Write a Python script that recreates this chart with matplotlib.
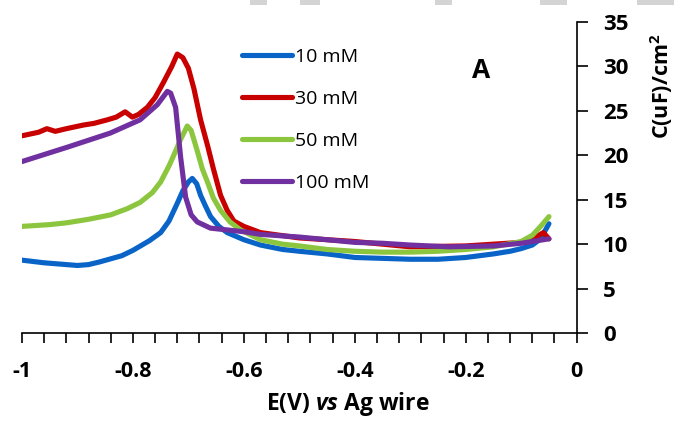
import matplotlib.pyplot as plt
from matplotlib.ticker import FixedLocator, MultipleLocator
from matplotlib.patches import Rectangle

# data
x_10 = [-1, -0.96, -0.92, -0.9, -0.88, -0.86, -0.82, -0.8, -0.77, -0.75, -0.735, -0.72, -0.71,
        -0.70, -0.693, -0.685, -0.678, -0.67, -0.66, -0.645, -0.63, -0.6, -0.57, -0.53, -0.5,
        -0.45, -0.4, -0.35, -0.3, -0.25, -0.2, -0.15, -0.12, -0.1, -0.08, -0.065, -0.05]
c_10 = [8.2, 7.9, 7.7, 7.6, 7.7, 8.0, 8.7, 9.3, 10.4, 11.3, 12.6, 14.6, 16.0,
        17.0, 17.4, 16.8, 15.5, 14.4, 13.1, 12.0, 11.3, 10.5, 9.9, 9.4, 9.2,
        8.9, 8.5, 8.4, 8.3, 8.3, 8.5, 8.9, 9.2, 9.5, 9.9, 10.6, 12.3]

x_30 = [-1, -0.97, -0.955, -0.94, -0.92, -0.89, -0.87, -0.846, -0.83, -0.814, -0.801, -0.79,
        -0.774, -0.76, -0.745, -0.73, -0.72, -0.71, -0.70, -0.69, -0.678, -0.665, -0.655,
        -0.642, -0.63, -0.618, -0.6, -0.57, -0.5, -0.4, -0.3, -0.2, -0.15, -0.1, -0.08,
        -0.06, -0.05]
c_30 = [22.2, 22.6, 23.0, 22.7, 23.0, 23.4, 23.6, 24.0, 24.3, 24.9, 24.3, 24.6,
        25.4, 26.5, 28.2, 30.0, 31.4, 31.0, 29.8, 27.5, 24.0, 21.0, 18.5,
        15.5, 13.8, 12.6, 12.0, 11.3, 10.7, 10.3, 9.7, 9.8, 10.0, 10.2, 10.6,
        11.3, 10.6]

x_50 = [-1, -0.95, -0.92, -0.88, -0.84, -0.81, -0.787, -0.765, -0.75, -0.735, -0.725, -0.714,
        -0.702, -0.695, -0.684, -0.675, -0.665, -0.655, -0.642, -0.625, -0.606, -0.57, -0.53,
        -0.5, -0.45, -0.4, -0.35, -0.3, -0.25, -0.2, -0.15, -0.1, -0.08, -0.065, -0.05]
c_50 = [12.0, 12.2, 12.4, 12.8, 13.3, 14.0, 14.7, 15.8, 17.0, 18.8, 20.2, 21.8,
        23.3, 22.8, 20.5, 18.5, 16.9, 15.2, 13.8, 12.5, 11.6, 10.5, 10.0,
        9.8, 9.4, 9.2, 9.1, 9.1, 9.2, 9.4, 9.7, 10.3, 11.0, 12.0, 13.1]

x_100 = [-1, -0.919, -0.841, -0.787, -0.756, -0.738, -0.732, -0.723, -0.714, -0.705, -0.695,
         -0.684, -0.66, -0.6, -0.57, -0.5, -0.4, -0.35, -0.3, -0.23, -0.15, -0.1, -0.07, -0.05]
c_100 = [19.3, 20.9, 22.5, 24.0, 25.7, 27.2, 27.0, 25.4, 19.8, 15.3, 13.3,
         12.5, 11.8, 11.4, 11.1, 10.8, 10.2, 10.1, 9.9, 9.7, 9.8, 10.1, 10.4, 10.6]

labels = ['10 mM', '30 mM', '50 mM', '100 mM']
colors = ['#0a64c8', '#c80000', '#8cc63f', '#7030a0']
x_ticks = [-1, -0.8, -0.6, -0.4, -0.2, 0]
x_tick_labels = ['-1', '-0.8', '-0.6', '-0.4', '-0.2', '0']

plt.rcParams['font.family'] = ['Open Sans', 'DejaVu Sans']
plt.rcParams['font.weight'] = 'bold'
plt.rcParams['axes.labelweight'] = 'bold'
plt.rcParams['mathtext.fontset'] = 'custom'
plt.rcParams['mathtext.rm'] = 'Open Sans:bold'
plt.rcParams['mathtext.bf'] = 'Open Sans:bold'
plt.rcParams['mathtext.it'] = 'Open Sans:bold:italic'

fig = plt.figure(figsize=(6.74, 4.23), dpi=100)
ax = fig.add_axes([0.0326, 0.2128, 0.823, 0.735])

for xs, ys, lab, col in zip([x_10, x_30, x_50, x_100], [c_10, c_30, c_50, c_100], labels, colors):
    ax.plot(xs, ys, color=col, lw=3.7, label=lab, solid_capstyle='round', solid_joinstyle='round')

ax.set_xlim(-1, 0)
ax.set_ylim(0, 35)

# axis style like Excel: only bottom and right lines
ax.spines['top'].set_visible(False)
ax.spines['left'].set_visible(False)
ax.yaxis.tick_right()
ax.yaxis.set_label_position('right')

ax.set_xticks(x_ticks, x_tick_labels)
ax.xaxis.set_minor_locator(FixedLocator([-1 + 0.04 * i for i in range(26)]))
ax.yaxis.set_major_locator(MultipleLocator(5))
ax.tick_params(axis='x', which='both', direction='out', length=7, width=1.2)
ax.tick_params(axis='x', labelsize=15.5, pad=13)
ax.tick_params(axis='y', direction='out', length=8, width=1.2, labelsize=16, pad=11)
for s in ['bottom', 'right']:
    ax.spines[s].set_linewidth(1.2)

ax.set_xlabel(r'E(V) $\mathit{vs}$ Ag wire', fontsize=16.5)
ax.xaxis.set_label_coords(0.587, -0.183)
ax.set_ylabel(r'C(uF)/cm$^{2}$', fontsize=15.5)
ax.yaxis.set_label_coords(1.153, 0.794)
ax.yaxis.label.set_verticalalignment('center')
ax.yaxis.label.set_horizontalalignment('center')

ax.text(-0.172, 29.5, 'A', fontsize=19, ha='center', va='center')

leg = ax.legend(loc='upper left', bbox_to_anchor=(0.382, 0.942), frameon=False,
                prop={'size': 14, 'weight': 'normal'},
                handlelength=2.6, handletextpad=0.15, labelspacing=1.24, borderaxespad=0)

# faint watermark fragments along the top edge
for x0, w in [(250, 17), (300, 20), (435, 17), (540, 27), (637, 37)]:
    fig.patches.append(Rectangle((x0 / 674, 1 - 5 / 423), w / 674, 5 / 423,
                                 transform=fig.transFigure, color='#d4d4d4', lw=0))

fig.savefig('out.png', dpi=100)
